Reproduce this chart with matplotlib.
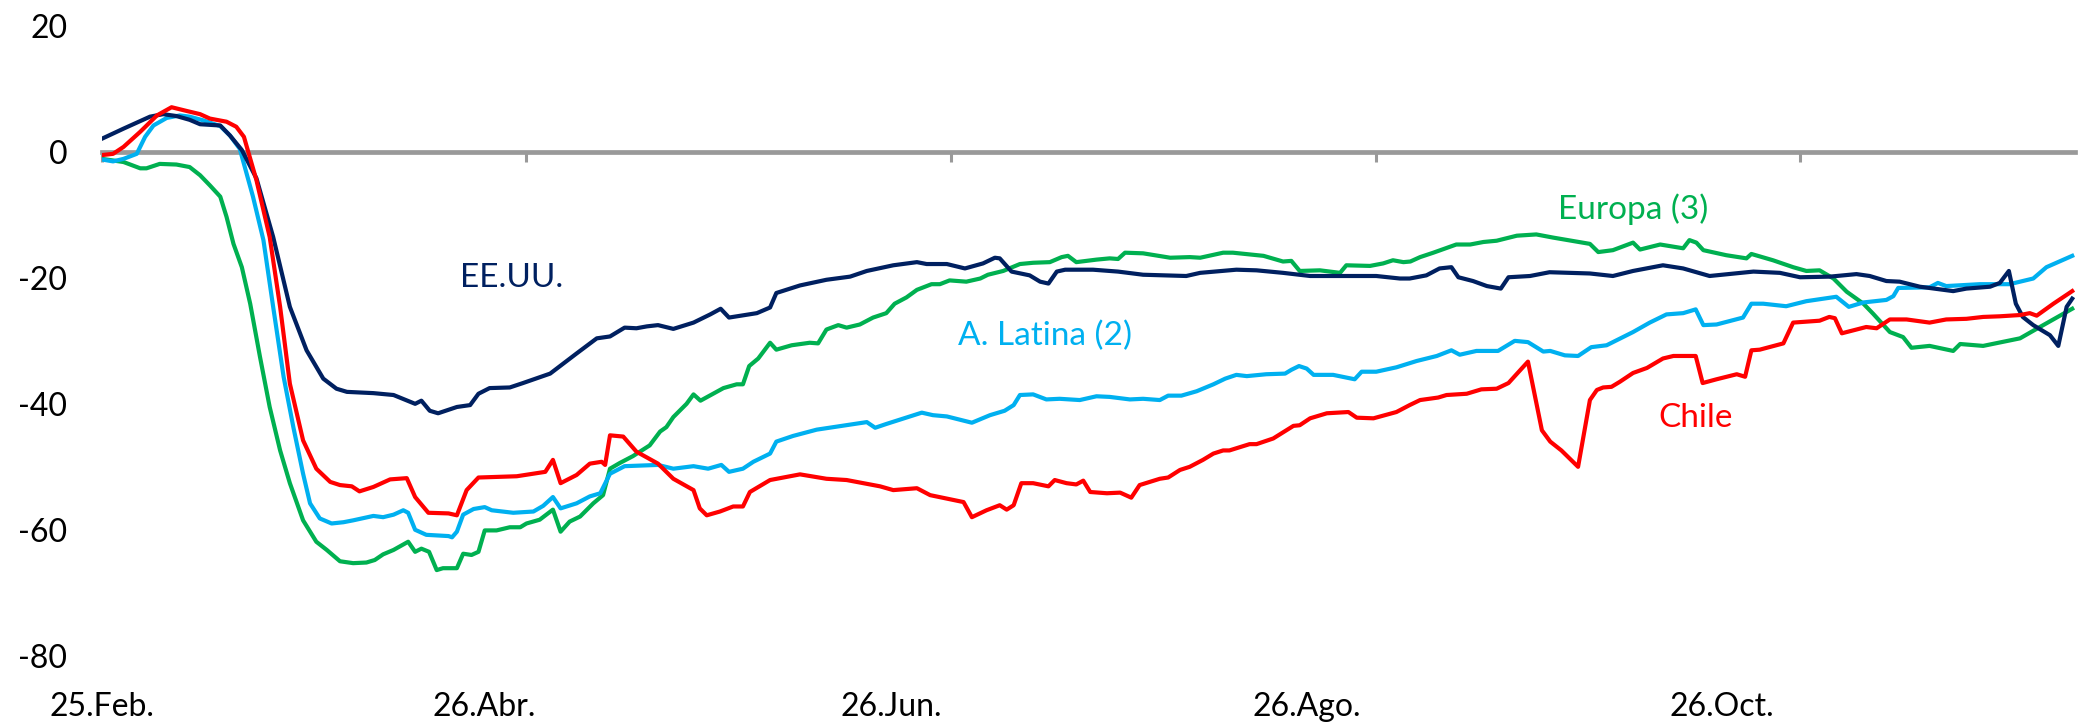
import matplotlib
matplotlib.use('Agg')
import matplotlib.pyplot as plt

# Days since 25.Feb (x) and index values (y)
us_day = [0, 3.1, 6.9, 8.8, 10.7, 12.6, 14.1, 17, 18.4, 20.1, 22.2, 24.6, 27, 29.4, 31.8, 33.7, 35.2, 39, 41.9,
          45, 45.9, 47.1, 48.3, 51, 52.9, 54.1, 55.7, 58.6, 60.5, 64.4, 68.2, 71.1, 73, 75.1, 76.8, 78.3, 79.9,
          82.1, 85, 87.4, 88.9, 90.1, 94.1, 96, 96.9, 100.3, 104.1, 107.5, 109.9, 113.7, 117.1, 118.5, 121.4,
          124, 126.6, 128.3, 129, 130.7, 133.3, 134.8, 136, 137.2, 138.4, 142.4, 146, 149.6, 155.8, 157.8, 163,
          165.9, 169.7, 173.6, 178.4, 183.1, 186.5, 187.9, 190.3, 192.2, 193.9, 194.9, 197, 199, 201, 202.1,
          205.2, 208, 213.8, 217.1, 220, 224.3, 227.2, 231, 237.3, 241.1, 244, 248.3, 252.1, 254, 256.4, 258.3,
          261.2, 266, 267.9, 271.3, 272.7, 274, 275, 276, 277.5, 279.9, 281.1, 282.3, 283.1]
us_val = [2.1, 3.7, 5.6, 6.0, 5.7, 5.1, 4.4, 4.2, 2.6, 0.3, -4.2, -13.5, -24.6, -31.5, -36, -37.6, -38.1, -38.3, -38.6,
          -40, -39.5, -41.1, -41.5, -40.5, -40.2, -38.4, -37.5, -37.4, -36.7, -35.2, -32, -29.6, -29.3, -27.9, -28,
          -27.7, -27.5, -28.1, -27.1, -25.8, -24.9, -26.3, -25.6, -24.7, -22.4, -21.2, -20.3, -19.8, -18.9, -18,
          -17.5, -17.8, -17.8, -18.5, -17.7, -16.8, -16.9, -19, -19.6, -20.6, -20.9, -19, -18.7, -18.7, -19, -19.5,
          -19.7, -19.2, -18.7, -18.8, -19.2, -19.7, -19.7, -19.7, -20.1, -20.1, -19.6, -18.5, -18.3, -19.9, -20.5,
          -21.3, -21.7, -19.9, -19.7, -19.1, -19.3, -19.7, -18.9, -18, -18.5, -19.7, -19, -19.2, -19.9, -19.8, -19.4,
          -19.7, -20.5, -20.6, -21.4, -22.1, -21.7, -21.4, -20.8, -18.9, -24.1, -26.2, -27.5, -29.1, -30.8, -24.6,
          -23.3]

cl_day = [0, 1.6, 3.1, 5.5, 7.9, 10, 12.2, 14.1, 15.5, 17.9, 19.3, 20.4, 22.2, 24.1, 25.6, 27, 28.9, 30.8, 32.8,
          34.2, 35.9, 37, 39, 41.4, 43.8, 45, 46.9, 49.8, 51, 52.4, 54.1, 59.6, 63.7, 64.8, 65.9, 68.2, 70.1, 71.8,
          72.3, 73, 74.9, 76.8, 79.9, 82.1, 85, 85.9, 86.9, 88.8, 90.7, 92.1, 93.1, 96, 100.3, 104.1, 107, 111.8,
          113.7, 117.1, 119, 123.8, 125, 127.1, 129, 130, 131, 132.1, 133.8, 136, 136.9, 138.6, 140, 141, 142,
          144.4, 146.3, 147.9, 149.1, 152, 153.2, 154.9, 156.3, 158.2, 159.7, 161.1, 162, 164.9, 165.9, 168.3,
          171.2, 172.1, 173.6, 176, 179.1, 180.3, 182.7, 186, 187.9, 189.4, 192, 193.2, 196.1, 198.2, 200.4, 202.1,
          204.9, 206.9, 208.1, 209.7, 212.1, 213.8, 214.8, 215.7, 216.9, 218.1, 220, 222, 224.3, 225.8, 229, 230,
          232, 234.9, 236.1, 237, 238.2, 241.6, 243, 246.8, 248.2, 249, 250, 253.5, 255, 256.9, 259.3, 262.6, 265,
          267.9, 270.3, 272.7, 275.6, 277, 278, 280.4, 283.1]
cl_val = [-0.5, -0.3, 0.8, 3.2, 5.8, 7.1, 6.5, 6.0, 5.3, 4.8, 4.0, 2.4, -4.5, -13.5, -24.6, -36.8, -45.8, -50.3, -52.4,
          -52.9, -53.1, -53.9, -53.2, -52, -51.8, -54.8, -57.3, -57.4, -57.7, -53.7, -51.7, -51.5, -50.8, -48.9,
          -52.6, -51.3, -49.5, -49.2, -49.7, -45, -45.2, -47.6, -49.5, -51.9, -53.7, -56.6, -57.7, -57.1, -56.3,
          -56.3, -54, -52.1, -51.2, -51.9, -52.1, -53.1, -53.7, -53.4, -54.5, -55.6, -58, -56.9, -56.1, -56.8,
          -56.1, -52.6, -52.6, -53.1, -52.1, -52.6, -52.8, -52.2, -54, -54.2, -54.1, -54.9, -52.9, -51.9, -51.7,
          -50.5, -50, -48.9, -47.9, -47.4, -47.4, -46.4, -46.4, -45.5, -43.5, -43.4, -42.3, -41.5, -41.3, -42.2,
          -42.3, -41.3, -40.2, -39.4, -39, -38.6, -38.4, -37.7, -37.6, -36.7, -33.3, -44.2, -46, -47.4, -50, -39.4,
          -37.8, -37.4, -37.3, -36.5, -35.1, -34.3, -32.8, -32.4, -32.4, -36.7, -36.1, -35.3, -35.7, -31.5, -31.4,
          -30.4, -27.1, -26.8, -26.2, -26.4, -28.8, -27.8, -28, -26.6, -26.6, -27.1, -26.6, -26.5, -26.2, -26.1,
          -25.9, -25.6, -26, -24.1, -22.1]

la_day = [0, 1.6, 3.1, 5, 6.2, 7.4, 9.3, 11.2, 12.6, 14.6, 17, 18.4, 19.8, 21.7, 23.2, 24.6, 26.1, 27.5, 28.9, 29.9,
          31.3, 33, 34.7, 36.1, 39, 40.4, 41.9, 43.3, 44, 45, 46.6, 49.8, 50.3, 51, 51.9, 53.4, 55, 56, 59.1, 62,
          63.4, 64.8, 65.9, 68.2, 70.1, 71.6, 73, 75.1, 79.9, 82.1, 85, 87.1, 89, 90.1, 92.1, 93.6, 96, 96.9, 99.3,
          102.7, 105.1, 107, 109.9, 111.1, 112.7, 114.7, 117.8, 119.4, 121.4, 125, 127.6, 129.7, 131, 131.9, 133.8,
          135.7, 137.6, 140.5, 142.9, 144.8, 147.7, 149.6, 152, 153.2, 155.1, 157.3, 159.7, 161.4, 163, 164.5,
          167.3, 170, 170.9, 172, 173.1, 174.1, 176.9, 180, 181, 183.1, 186, 188.9, 191.8, 193.9, 195.1, 197.5,
          200.6, 203, 204.9, 207.1, 208.1, 210.2, 212.1, 214, 216.2, 220, 222.4, 224.8, 227.2, 229, 230.1, 232,
          235.8, 237, 238.7, 242, 244.9, 249.2, 251, 253.1, 256.4, 257.4, 258.1, 262.6, 263.8, 265, 269.8, 274.1,
          277.5, 279.4, 283.1]
la_val = [-1.2, -1.5, -1.1, -0.3, 2.4, 4.2, 5.4, 5.8, 5.6, 5, 4.1, 2.6, 0.5, -7.1, -14, -24.6, -35.7, -43.7, -51.1,
          -55.8, -58.2, -59, -58.8, -58.5, -57.8, -58, -57.6, -56.9, -57.3, -60, -60.8, -61, -61.2, -60.3, -57.6,
          -56.7, -56.4, -56.9, -57.3, -57.1, -56.2, -54.8, -56.6, -55.8, -54.7, -54.2, -51.1, -49.9, -49.7, -50.3,
          -49.9, -50.3, -49.7, -50.8, -50.3, -49.2, -47.9, -46, -45.1, -44.1, -43.7, -43.4, -42.9, -43.8, -43.2,
          -42.5, -41.4, -41.8, -42, -43, -41.8, -41.1, -40.2, -38.6, -38.5, -39.3, -39.2, -39.4, -38.8, -38.9,
          -39.3, -39.2, -39.4, -38.7, -38.7, -38, -36.9, -36, -35.4, -35.6, -35.3, -35.2, -34.6, -34, -34.4, -35.4,
          -35.4, -36.1, -34.9, -34.9, -34.2, -33.2, -32.4, -31.5, -32.2, -31.6, -31.6, -30, -30.2, -31.7, -31.6,
          -32.3, -32.4, -31, -30.7, -28.6, -27.1, -25.8, -25.6, -25, -27.5, -27.4, -26.3, -24.1, -24.1, -24.5,
          -23.7, -23, -24.6, -23.9, -23.5, -22.9, -21.6, -21.5, -20.8, -21.3, -21, -21, -20.1, -18.3, -16.5]

eu_day = [0, 3.1, 5.5, 6.4, 8.3, 10.7, 12.6, 14.1, 15.5, 17, 17.9, 18.9, 20.1, 21.3, 22.7, 24.1, 25.6, 27, 28.9,
          30.8, 32.3, 34.2, 36.1, 38, 39.2, 40.4, 41.9, 44, 45, 45.9, 47, 48.1, 49, 51, 51.9, 53.1, 54.1, 55, 56.7,
          58.6, 60.1, 61, 62.9, 64.8, 65.9, 67.2, 68.7, 70.6, 72, 73, 74.4, 76.3, 78.7, 80.2, 81.1, 82.1, 84, 85,
          86, 89.3, 91.2, 92.1, 93, 94.3, 96, 96.9, 99.1, 101.7, 102.9, 104.1, 105.8, 107, 108.9, 110.8, 112.7,
          113.9, 115.6, 117.1, 119.2, 120.4, 121.8, 124.2, 126.2, 127.3, 129.5, 131.9, 133.8, 136.2, 137.9, 138.8,
          140, 142.9, 144.8, 146, 147, 149.6, 153.5, 156.3, 157.8, 161.1, 162.5, 166.9, 169.7, 170.9, 172.1, 175,
          177.9, 178.8, 182.2, 184.1, 185.5, 187, 188, 189.4, 191.3, 194.6, 196.6, 198.5, 200.4, 203.3, 206.1,
          208.5, 213.8, 215, 217.1, 220, 221, 223.9, 227.2, 228.1, 229.1, 230.1, 233.4, 236.3, 237, 240.1, 243,
          244.9, 246.8, 248.8, 250.7, 253.1, 254.5, 256.9, 258.8, 260, 262.6, 266, 267, 270.3, 275.6, 277.5, 283.1]
eu_val = [-1.1, -1.6, -2.6, -2.6, -1.9, -2, -2.4, -3.7, -5.3, -7.1, -10.3, -14.6, -18.3, -24.1, -32.5, -40.5, -47.4,
          -52.6, -58.5, -61.9, -63.2, -65, -65.3, -65.2, -64.8, -63.9, -63.2, -61.9, -63.5, -63, -63.5, -66.4, -66.1,
          -66.1, -63.8, -64, -63.5, -60.1, -60.1, -59.6, -59.6, -59, -58.4, -56.8, -60.3, -58.7, -57.9, -55.8, -54.5,
          -50.3, -49.4, -48.3, -46.6, -44.4, -43.7, -42.1, -40, -38.5, -39.5, -37.5, -36.9, -36.9, -34, -32.8, -30.3,
          -31.4, -30.7, -30.3, -30.4, -28.2, -27.5, -27.9, -27.4, -26.3, -25.6, -24.1, -23.1, -21.9, -21, -21, -20.4,
          -20.6, -20.1, -19.5, -18.9, -17.8, -17.6, -17.5, -16.7, -16.5, -17.5, -17.1, -16.9, -17, -16, -16.1,
          -16.8, -16.7, -16.8, -16, -16, -16.5, -17.4, -17.3, -18.9, -18.8, -19.2, -18, -18.1, -17.7, -17.2, -17.5,
          -17.4, -16.7, -16, -14.7, -14.7, -14.3, -14.1, -13.3, -13.1, -13.6, -14.6, -15.9, -15.6, -14.4, -15.5,
          -14.7, -15.3, -14, -14.4, -15.6, -16.4, -16.9, -16.2, -17.2, -18.3, -18.9, -18.8, -20.1, -22.2, -24.1,
          -25.7, -28.6, -29.4, -31.1, -30.8, -31.6, -30.5, -30.8, -29.6, -28.4, -24.9]

xtick_days = [0, 61, 122, 183, 244]          # tick marks on the zero line
xlabel_days = [0, 54.9, 113.4, 173.1, 232.8]
xlabels = ['25.Feb.', '26.Abr.', '26.Jun.', '26.Ago.', '26.Oct.']
yticks = [20, 0, -20, -40, -60, -80]

plt.rcParams['font.family'] = ['Lato', 'DejaVu Sans']
plt.rcParams['axes.unicode_minus'] = False

fig = plt.figure(figsize=(20.85, 7.24), dpi=100)
ax = fig.add_axes([0.0489, 0.0943, 0.9463, 0.8698])

# Series (Excel-like colours)
lw = 3.0
ax.plot(eu_day, eu_val, color='#00B050', lw=lw, zorder=3)
ax.plot(la_day, la_val, color='#00B0F0', lw=lw, zorder=3)
ax.plot(us_day, us_val, color='#002060', lw=lw, zorder=3)
ax.plot(cl_day, cl_val, color='#FF0000', lw=lw, zorder=3)

# Series labels
ax.text(58.9, -21.4, 'EE.UU.', color='#002060', fontsize=24, ha='center', va='baseline')
ax.text(135.5, -30.7, 'A. Latina (2)', color='#00B0F0', fontsize=24, ha='center', va='baseline')
ax.text(220, -10.6, 'Europa (3)', color='#00B050', fontsize=24, ha='center', va='baseline')
ax.text(229, -43.7, 'Chile', color='#FF0000', fontsize=24, ha='center', va='baseline')

ax.set_xlim(0, 283.5)
ax.set_ylim(-80, 20)

# Zero line acts as the x axis
for s in ['top', 'right', 'left']:
    ax.spines[s].set_visible(False)
ax.spines['bottom'].set_position(('data', 0))
ax.spines['bottom'].set_color('#999999')
ax.spines['bottom'].set_linewidth(3.4)
ax.set_xticks(xtick_days)
ax.tick_params(axis='x', direction='out', length=7, width=2.2, color='#999999', labelbottom=False)

ax.set_yticks(yticks)
ax.tick_params(axis='y', length=0, pad=25, labelsize=23)

# Date labels at the bottom of the plot
sec = ax.secondary_xaxis(0)
sec.spines['bottom'].set_visible(False)
sec.set_xticks(xlabel_days)
sec.set_xticklabels(xlabels)
sec.tick_params(axis='x', length=0, pad=26, labelsize=23)

fig.savefig('out.png', dpi=100)
